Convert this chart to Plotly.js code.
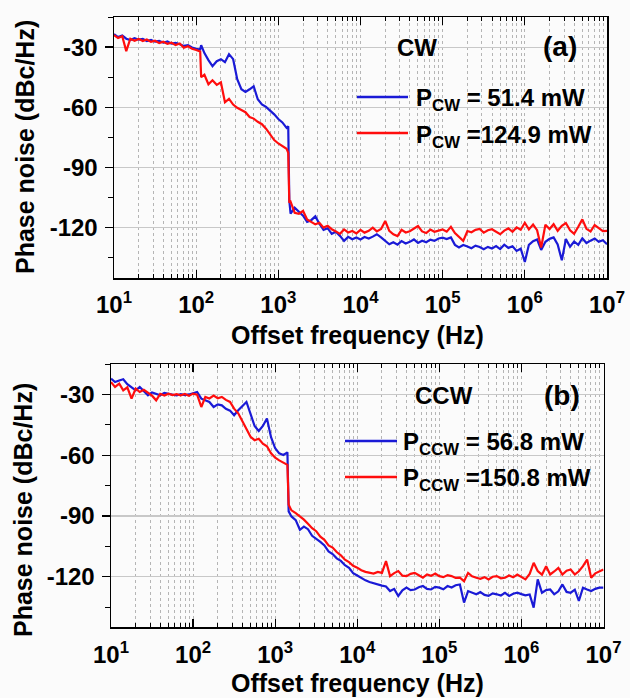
<!DOCTYPE html>
<html>
<head>
<meta charset="utf-8">
<script src="https://cdn.plot.ly/plotly-3.0.1.min.js"></script>
<style>
  html, body { margin: 0; padding: 0; background: #ffffff; }
  #chart { width: 630px; height: 698px; }
</style>
</head>
<body>
<div id="chart"></div>
<script>
// ---------- data: panel (a) CW ----------
const freqA = [
  10, 11.2, 12.6, 14.1, 15.8, 17.8, 20.0, 22.4, 25.1, 28.2, 31.6, 35.5, 39.8, 44.7, 50.1, 56.2, 63.1, 70.8, 79.4, 89.1,
  100, 112, 115,
  126, 141, 158, 178, 200, 224, 251, 282, 316, 355, 398, 447, 501, 562, 631, 708, 794, 891,
  1000, 1120, 1260, 1320, 1360,
  1410, 1580, 1780, 2000, 2240, 2510, 2820, 3160, 3550, 3980, 4470, 5010, 5620, 6310, 7080, 7940, 8910,
  1.00e4, 1.12e4, 1.26e4, 1.41e4, 1.58e4, 1.78e4, 2.00e4, 2.24e4, 2.51e4, 2.82e4, 3.16e4, 3.55e4, 3.98e4, 4.47e4, 5.01e4, 5.62e4, 6.31e4, 7.08e4, 7.94e4, 8.91e4,
  1.00e5, 1.12e5, 1.26e5, 1.41e5, 1.58e5, 1.78e5, 2.00e5, 2.24e5, 2.51e5, 2.82e5, 3.16e5, 3.55e5, 3.98e5, 4.47e5, 5.01e5, 5.62e5, 6.31e5, 7.08e5, 7.94e5, 8.91e5,
  1.00e6, 1.12e6, 1.26e6, 1.41e6, 1.58e6, 1.78e6, 2.00e6, 2.24e6, 2.51e6, 2.82e6, 3.16e6, 3.55e6, 3.98e6, 4.47e6, 5.01e6, 5.62e6, 6.31e6, 7.08e6, 7.94e6, 8.91e6,
  1.00e7
];
const cw51 = [
  -23.5, -25.0, -24.2, -25.8, -26.5, -25.6, -26.3, -25.9, -27.0, -26.4, -27.3, -26.9, -27.8, -27.2, -28.3, -27.9, -28.6, -29.4, -29.0, -30.2,
  -30.8, -31.2, -29.0,
  -33.0, -36.5, -39.5, -37.0, -36.0, -37.5, -33.5, -36.0, -46.0, -51.0, -52.3, -51.0, -49.5, -56.0, -58.5, -59.8, -61.5, -63.5,
  -65.8, -67.5, -70.2, -69.4, -106.5,
  -113.0, -110.0, -111.8, -114.0, -117.0, -116.2, -114.3, -118.0, -121.0, -120.2, -123.0, -122.0, -124.0, -126.5, -124.5, -125.7, -124.8,
  -125.8, -124.6, -125.3, -124.4, -123.2, -124.8, -126.3, -128.2, -127.2, -128.4, -126.6, -127.8, -127.0, -125.8, -127.5, -126.4, -127.2, -125.9, -126.5, -125.3,
  -124.9, -125.6, -124.8, -128.5, -129.8, -128.6, -129.3, -130.2, -128.9, -129.6, -130.7, -129.5, -130.3, -129.1, -130.6, -128.4, -130.0, -129.2, -131.5, -130.4,
  -137.0, -128.5, -126.7, -125.8, -131.0, -127.0, -125.5, -124.8, -128.3, -136.2, -125.6, -129.4, -126.8, -128.5, -125.2, -127.6, -126.4, -125.3, -127.0, -126.2,
  -128.2
];
const cw125 = [
  -24.0, -25.5, -24.6, -32.0, -25.8, -26.8, -25.9, -27.0, -26.2, -27.4, -26.8, -28.0, -27.3, -28.4, -27.8, -29.0, -28.2, -30.3, -29.6, -30.8,
  -31.4, -32.2, -45.0,
  -43.8, -48.5, -46.5, -48.8, -47.5, -57.5, -55.8, -58.6, -60.2, -61.3, -62.4, -64.8, -65.6, -67.2, -68.4, -70.6, -73.5, -76.3,
  -78.0, -79.2, -80.6, -82.7, -107.5,
  -107.0, -112.5, -113.0, -111.6, -115.8, -117.0, -118.3, -117.5, -119.9, -119.0, -120.7, -121.8, -123.0, -120.8, -122.3, -121.6, -122.8,
  -121.0, -122.4, -121.5, -119.9, -121.8, -120.6, -116.6, -121.5, -123.2, -124.1, -121.0, -122.3, -121.7, -120.5, -119.1, -121.8, -122.6, -120.9, -122.0, -121.4,
  -120.8, -121.9, -119.5, -122.6, -124.3, -126.5, -121.6, -122.2, -121.0, -120.6, -122.4, -121.2, -120.7, -122.0, -123.2, -121.4, -120.3, -122.0, -119.8, -121.0,
  -117.5, -120.8, -118.4, -121.2, -129.8, -118.5, -120.6, -118.2, -121.5, -119.0, -117.6, -121.2, -123.0, -119.5, -115.8, -120.5, -121.8, -118.6, -120.3, -121.6,
  -121.5
];

// ---------- data: panel (b) CCW ----------
const freqB = [
  10, 11.2, 12.6, 14.1, 15.8, 17.8, 20.0, 22.4, 25.1, 28.2, 31.6, 35.5, 39.8, 44.7, 50.1, 56.2, 63.1, 70.8, 79.4, 89.1,
  100, 112, 126, 141, 158, 178, 200, 224, 251, 282, 316, 355, 398, 447, 501, 562, 631, 708, 794, 891,
  1000, 1120, 1260, 1410, 1460,
  1580, 1780, 2000, 2240, 2510, 2820, 3160, 3550, 3980, 4470, 5010, 5620, 6310, 7080, 7940, 8910,
  1.00e4, 1.12e4, 1.26e4, 1.41e4, 1.58e4, 1.78e4, 2.00e4, 2.24e4, 2.51e4, 2.82e4, 3.16e4, 3.55e4, 3.98e4, 4.47e4, 5.01e4, 5.62e4, 6.31e4, 7.08e4, 7.94e4, 8.91e4,
  1.00e5, 1.12e5, 1.26e5, 1.41e5, 1.58e5, 1.78e5, 2.00e5, 2.24e5, 2.51e5, 2.82e5, 3.16e5, 3.55e5, 3.98e5, 4.47e5, 5.01e5, 5.62e5, 6.31e5, 7.08e5, 7.94e5, 8.91e5,
  1.00e6, 1.12e6, 1.26e6, 1.41e6, 1.58e6, 1.78e6, 2.00e6, 2.24e6, 2.51e6, 2.82e6, 3.16e6, 3.55e6, 3.98e6, 4.47e6, 5.01e6, 5.62e6, 6.31e6, 7.08e6, 7.94e6, 8.91e6,
  1.00e7
];
const ccw57 = [
  -22.1, -23.8, -23.0, -22.4, -24.8, -26.5, -27.9, -26.2, -28.4, -30.3, -28.9, -29.7, -30.3, -29.1, -29.6, -30.1, -30.4, -29.8, -30.2, -29.9,
  -29.4, -28.7, -32.0, -32.8, -33.6, -36.1, -34.8, -35.3, -37.0, -37.9, -40.2, -37.7, -35.6, -33.6, -39.5, -45.5, -48.0, -45.5, -41.8, -51.0,
  -56.5, -59.0, -59.8, -58.5, -87.7,
  -90.2, -92.0, -96.8, -95.2, -96.5, -99.8, -101.2, -102.8, -104.5, -107.5, -108.8, -110.9, -112.2, -114.3, -115.6, -118.2,
  -119.4, -120.6, -121.8, -122.6, -123.3, -123.8, -124.4, -124.8, -127.1, -126.0, -129.5, -126.7, -125.4, -126.6, -126.3, -125.2, -124.6, -126.0, -126.3, -125.0,
  -125.4, -126.2, -124.6, -125.3, -124.2, -123.8, -132.8, -127.1, -127.9, -128.7, -127.6, -129.0, -129.5, -128.2, -128.7, -129.3, -128.0, -129.5, -128.4, -127.9,
  -128.6, -129.2, -128.8, -135.3, -121.3, -127.9, -126.6, -126.3, -128.7, -127.2, -123.8, -127.5, -127.9, -126.4, -132.0, -125.4, -126.3, -127.1, -126.0, -125.4,
  -125.4
];
const ccw151 = [
  -23.8, -26.2, -24.6, -27.9, -26.4, -32.0, -27.0, -28.7, -27.6, -29.2, -30.5, -32.8, -29.6, -30.4, -29.5, -30.2, -29.8, -30.3, -29.7, -30.6,
  -29.5, -30.0, -36.1, -31.1, -31.9, -30.5, -31.8, -31.1, -32.6, -33.6, -36.9, -39.2, -43.0, -47.5, -50.8, -52.5, -51.8, -54.2, -55.5, -59.0,
  -61.2, -62.5, -63.6, -64.7, -84.4,
  -87.2, -88.6, -90.2, -91.8, -93.8, -96.0, -97.5, -100.2, -101.8, -104.5, -105.6, -107.8, -109.4, -111.6, -112.8, -114.6,
  -115.5, -116.8, -117.6, -118.0, -118.4, -117.6, -118.1, -112.3, -119.7, -118.2, -117.2, -119.5, -119.7, -118.6, -118.1, -119.3, -120.5, -118.9, -119.6, -118.4,
  -119.7, -120.2, -119.2, -119.7, -120.6, -120.5, -122.2, -118.1, -119.8, -120.5, -121.0, -120.2, -121.3, -120.0, -119.7, -120.8, -120.5, -119.4, -120.3, -118.9,
  -120.2, -121.3, -118.6, -113.1, -117.2, -119.0, -114.8, -118.9, -117.4, -115.6, -118.9, -117.0, -116.4, -118.9, -117.3, -114.8, -111.5, -120.5, -118.3, -117.2,
  -116.4
];

// ---------- tick labels / text ----------
const xTickVals = [1e1, 1e2, 1e3, 1e4, 1e5, 1e6, 1e7];
const xTickText = ['10<sup>1</sup>', '10<sup>2</sup>', '10<sup>3</sup>', '10<sup>4</sup>', '10<sup>5</sup>', '10<sup>6</sup>', '10<sup>7</sup>'];
const yTickVals = [-30, -60, -90, -120];
const yTickText = ['-30', '-60', '-90', '-120'];
const seriesNamesA = ['P<sub>CW</sub> = 51.4 mW', 'P<sub>CW</sub> =124.9 mW'];
const seriesNamesB = ['P<sub>CCW</sub> = 56.8 mW', 'P<sub>CCW</sub> =150.8 mW'];
const panelTags = ['CW', '(a)', 'CCW', '(b)'];
const xTitle = 'Offset frequency (Hz)';
const yTitle = 'Phase noise (dBc/Hz)';

// ---------- styling ----------
const W = 630, H = 698;
const BLUE = '#1a1ad6', RED = '#ff0d0d';
const FONT = 'Arial, "Liberation Sans", Helvetica, sans-serif';
const px = v => v / W;
const py = v => 1 - v / H;

const traces = [
  {x: freqA, y: cw51, name: seriesNamesA[0], xaxis: 'x', yaxis: 'y', mode: 'lines', line: {color: BLUE, width: 2.2}, showlegend: false},
  {x: freqA, y: cw125, name: seriesNamesA[1], xaxis: 'x', yaxis: 'y', mode: 'lines', line: {color: RED, width: 2.2}, showlegend: false},
  {x: freqB, y: ccw57, name: seriesNamesB[0], xaxis: 'x2', yaxis: 'y2', mode: 'lines', line: {color: BLUE, width: 2.2}, showlegend: false},
  {x: freqB, y: ccw151, name: seriesNamesB[1], xaxis: 'x2', yaxis: 'y2', mode: 'lines', line: {color: RED, width: 2.2}, showlegend: false}
];

function xAxis(domain, anchor) {
  return {
    type: 'log', range: [1, 7], domain: domain, anchor: anchor,
    tickmode: 'array', tickvals: xTickVals, ticktext: xTickText,
    ticks: 'inside', ticklen: 8, tickwidth: 1.3, tickcolor: '#000',
    ticklabelstandoff: 5,
    showline: true, linecolor: '#000', linewidth: 1.5, mirror: 'ticks',
    showgrid: true, gridcolor: '#b5b5b5', griddash: 'dot', gridwidth: 1,
    zeroline: false,
    tickfont: {family: FONT, size: 24, color: '#000', weight: 'bold'},
    minor: {dtick: 'D1', ticks: 'inside', ticklen: 4, tickwidth: 1, tickcolor: '#000',
            showgrid: true, gridcolor: '#b5b5b5', griddash: 'dot', gridwidth: 1}
  };
}
function yAxis(domain, anchor) {
  return {
    range: [-145, -15], domain: domain, anchor: anchor,
    tickmode: 'array', tickvals: yTickVals, ticktext: yTickText,
    ticks: 'outside', ticklen: 8, tickwidth: 1.3, tickcolor: '#000',
    ticklabelstandoff: 2,
    showline: true, linecolor: '#000', linewidth: 1.5, mirror: true,
    showgrid: true, gridcolor: '#c8c8c8', gridwidth: 1.2,
    zeroline: false,
    tickfont: {family: FONT, size: 24, color: '#000', weight: 'bold'},
    minor: {dtick: 15, tick0: -30, ticks: 'outside', ticklen: 5, tickwidth: 1, tickcolor: '#000', showgrid: false}
  };
}
function yRight(domain, anchor, over) {
  return {
    range: [-145, -15], domain: domain, anchor: anchor, overlaying: over, side: 'right',
    tickmode: 'array', tickvals: yTickVals, showticklabels: false,
    ticks: 'inside', ticklen: 8, tickwidth: 1.3, tickcolor: '#000',
    showline: false, showgrid: false, zeroline: false,
    minor: {dtick: 15, tick0: -30, ticks: 'inside', ticklen: 5, tickwidth: 1, tickcolor: '#000', showgrid: false}
  };
}

const domXA = [px(114), px(607)], domYA = [py(278), py(17)];
const domXB = [px(111), px(603.5)], domYB = [py(627.3), py(364.3)];

const ann = (x, y, text, size, xanchor, angle) => ({
  xref: 'paper', yref: 'paper', x: px(x), y: py(y), text: text, showarrow: false,
  xanchor: xanchor || 'center', yanchor: 'middle', textangle: angle || 0,
  font: {family: FONT, size: size, color: '#000', weight: 'bold'}
});

const layout = {
  width: W, height: H,
  margin: {l: 0, r: 0, t: 0, b: 0},
  paper_bgcolor: '#fbfbfb', plot_bgcolor: '#fbfbfb',
  showlegend: false,
  xaxis: xAxis(domXA, 'y'),
  yaxis: yAxis(domYA, 'x'),
  xaxis2: xAxis(domXB, 'y2'),
  yaxis2: yAxis(domYB, 'x2'),
  yaxis3: yRight(domYA, 'x', 'y'),
  yaxis4: yRight(domYB, 'x2', 'y2'),
  annotations: [
    ann(25, 147, yTitle, 25, 'center', -90),
    ann(23, 510, yTitle, 25, 'center', -90),
    ann(357, 335, xTitle, 25),
    ann(357, 683, xTitle, 25),
    ann(417, 48, panelTags[0], 24),
    ann(560, 47, panelTags[1], 28),
    ann(444, 395, panelTags[2], 24),
    ann(562, 395, panelTags[3], 28),
    ann(414, 100, seriesNamesA[0], 24, 'left'),
    ann(414, 136, seriesNamesA[1], 24, 'left'),
    ann(401, 444, seriesNamesB[0], 24, 'left'),
    ann(401, 480, seriesNamesB[1], 24, 'left')
  ],
  shapes: [
    {type: 'line', xref: 'paper', yref: 'paper', x0: px(357), x1: px(408), y0: py(97), y1: py(97), line: {color: BLUE, width: 2.5}},
    {type: 'line', xref: 'paper', yref: 'paper', x0: px(357), x1: px(408), y0: py(133), y1: py(133), line: {color: RED, width: 2.5}},
    {type: 'line', xref: 'paper', yref: 'paper', x0: px(345), x1: px(397), y0: py(441), y1: py(441), line: {color: BLUE, width: 2.5}},
    {type: 'line', xref: 'paper', yref: 'paper', x0: px(345), x1: px(397), y0: py(477), y1: py(477), line: {color: RED, width: 2.5}}
  ]
};

Plotly.newPlot('chart', traces, layout, {staticPlot: true, displayModeBar: false});
</script>
</body>
</html>
